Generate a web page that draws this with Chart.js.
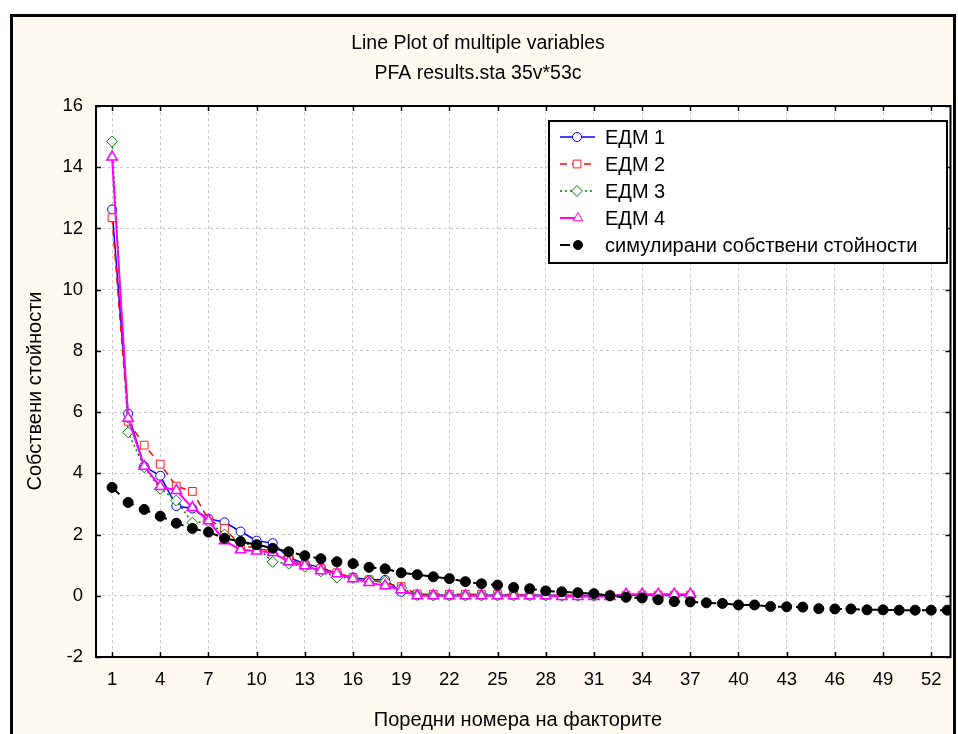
<!doctype html>
<html lang="en">
<head>
<meta charset="utf-8">
<style>
  * { margin: 0; padding: 0; }
  body { background: #ffffff; }
  .chartBox { width: 958px; height: 734px; }
</style>
</head>
<body>
<div class="chartBox"><canvas id="myChart"></canvas></div>
<script src="https://cdn.jsdelivr.net/npm/chart.js/dist/chart.umd.min.js"></script>
<script>
// factor numbers (x categories)
const factors = [1,2,3,4,5,6,7,8,9,10,11,12,13,14,15,16,17,18,19,20,21,22,23,24,25,26,27,28,29,30,31,32,33,34,35,36,37,38,39,40,41,42,43,44,45,46,47,48,49,50,51,52,53];
const xTickLabels = [1,4,7,10,13,16,19,22,25,28,31,34,37,40,43,46,49,52];
const yTickLabels = [-2,0,2,4,6,8,10,12,14,16];

const seriesNames = ['ЕДМ 1','ЕДМ 2','ЕДМ 3','ЕДМ 4','симулирани собствени стойности'];

const edm1 = [12.62,5.95,4.23,3.92,2.93,2.85,2.52,2.4,2.1,1.8,1.72,1.25,1.05,0.92,0.72,0.6,0.52,0.52,0.13,0.03,0.02,0.02,0.02,0.02,0.02,0.02,0.02,0.02,0.01,0.01,0.01,0.01,0.02,0.02,0.02,0.02,0.02];
const edm2 = [12.35,5.7,4.92,4.3,3.58,3.41,2.49,2.2,1.65,1.55,1.45,1.2,0.98,0.89,0.75,0.6,0.52,0.42,0.3,0.06,0.05,0.05,0.05,0.05,0.05,0.03,0.03,0.02,0.02,0.02,0.02,0.02,0.02,0.02,0.02,0.02,0.02];
const edm3 = [14.84,5.34,4.2,3.5,3.11,2.39,2.43,2.0,1.75,1.6,1.11,1.05,0.95,0.8,0.6,0.58,0.5,0.46,0.25,0.02,0.01,0.01,0.01,0.01,0.01,0.01,0.01,0.01,0.0,0.0,0.0,0.0,0.0,0.0,0.0,0.0,0.0];
const edm4 = [14.33,5.8,4.23,3.57,3.44,2.88,2.45,1.8,1.5,1.46,1.41,1.11,0.98,0.82,0.72,0.56,0.43,0.33,0.2,0.0,0.0,0.0,0.0,0.0,0.0,0.0,0.0,0.0,-0.02,-0.02,-0.02,-0.02,0.05,0.05,0.05,0.05,0.05];
const simulated = [3.54,3.05,2.82,2.6,2.37,2.2,2.08,1.88,1.77,1.67,1.55,1.44,1.31,1.21,1.11,1.05,0.93,0.88,0.75,0.69,0.62,0.56,0.46,0.39,0.35,0.27,0.23,0.16,0.13,0.1,0.07,0.0,-0.05,-0.07,-0.13,-0.19,-0.2,-0.23,-0.25,-0.3,-0.3,-0.35,-0.36,-0.37,-0.42,-0.43,-0.43,-0.46,-0.46,-0.47,-0.47,-0.47,-0.47];

const FONT = 'Liberation Sans, Arial, sans-serif';

const pts = (arr) => arr.map((v, i) => ({ x: factors[i], y: v }));

const data = {
  datasets: [
    { label: seriesNames[0], data: pts(edm1), borderColor: '#0000ff', borderWidth: 1.5,
      pointStyle: 'circle', pointRadius: 4.5, pointBackgroundColor: '#ffffff', pointBorderColor: '#0000ff', pointBorderWidth: 1, order: 4 },
    { label: seriesNames[1], data: pts(edm2), borderColor: '#ff0000', borderWidth: 1.5, borderDash: [7, 5],
      pointStyle: 'rect', pointRadius: 5.5, pointBackgroundColor: '#ffffff', pointBorderColor: '#ff2020', pointBorderWidth: 1, order: 3 },
    { label: seriesNames[2], data: pts(edm3), borderColor: '#008000', borderWidth: 1.5, borderDash: [2, 3],
      pointStyle: 'rectRot', pointRadius: 5.5, pointBackgroundColor: '#ffffff', pointBorderColor: '#008000', pointBorderWidth: 1, order: 2 },
    { label: seriesNames[3], data: pts(edm4), borderColor: '#ff00ff', borderWidth: 2,
      pointStyle: 'triangle', pointRadius: 6, pointBackgroundColor: '#ffffff', pointBorderColor: '#ff00ff', pointBorderWidth: 1.5, order: 1 },
    { label: seriesNames[4], data: pts(simulated), borderColor: '#000000', borderWidth: 2, borderDash: [10, 8],
      pointStyle: 'circle', pointRadius: 5, pointBackgroundColor: '#000000', pointBorderColor: '#000000', pointBorderWidth: 1, order: 0 }
  ]
};

// cream page, white plot area, frames, inward ticks and titles
const frame = {
  id: 'frame',
  beforeDraw(chart) {
    const { ctx, width, height, chartArea: { top, bottom, left, right } } = chart;
    ctx.save();
    ctx.fillStyle = '#ffffff';
    ctx.fillRect(0, 0, width, height);
    ctx.fillStyle = '#fffaf0';
    ctx.fillRect(11, 15, 944, height);
    ctx.fillStyle = '#ffffff';
    ctx.fillRect(left, top, right - left, bottom - top);
    ctx.restore();
  },
  afterDraw(chart) {
    const { ctx, height, chartArea: { top, bottom, left, right }, scales: { x, y } } = chart;
    ctx.save();
    ctx.strokeStyle = '#000000';
    ctx.lineWidth = 3;
    ctx.strokeRect(11.5, 15.5, 943, height + 10);
    ctx.lineWidth = 2;
    ctx.strokeRect(left, top, right - left, bottom - top);
    ctx.lineWidth = 1.5;
    ctx.beginPath();
    xTickLabels.forEach(v => {
      const px = Math.round(x.getPixelForValue(v)) + 0.5;
      ctx.moveTo(px, top); ctx.lineTo(px, top + 5);
      ctx.moveTo(px, bottom); ctx.lineTo(px, bottom - 5);
    });
    yTickLabels.forEach(v => {
      const py = Math.round(y.getPixelForValue(v)) + 0.5;
      ctx.moveTo(left, py); ctx.lineTo(left + 5, py);
      ctx.moveTo(right, py); ctx.lineTo(right - 5, py);
    });
    ctx.stroke();

    ctx.fillStyle = '#000000';
    ctx.font = '19.5px ' + FONT;
    ctx.textAlign = 'center';
    ctx.textBaseline = 'middle';
    ctx.fillText('Line Plot of multiple variables', 478, 44);
    ctx.fillText('PFA results.sta 35v*53c', 478, 74);

    // axis titles
    ctx.font = '20px ' + FONT;
    ctx.fillText('Поредни номера на факторите', 518, 720);
    ctx.translate(35, 391);
    ctx.rotate(-Math.PI / 2);
    ctx.fillText('Собствени стойности', 0, 0);
    ctx.restore();
  }
};

// legend box inside the plot
const legendBox = {
  id: 'legendBox',
  afterDraw(chart) {
    const { ctx, data } = chart;
    const bx = 549, by = 121, bw = 398, bh = 142;
    ctx.save();
    ctx.fillStyle = '#ffffff';
    ctx.fillRect(bx, by, bw, bh);
    ctx.strokeStyle = '#000000';
    ctx.lineWidth = 2;
    ctx.strokeRect(bx, by, bw, bh);
    ctx.font = '20px ' + FONT;
    ctx.textBaseline = 'middle';
    ctx.textAlign = 'left';
    data.datasets.forEach((ds, i) => {
      const cy = by + 16 + i * 27;
      const short = i >= 3;
      const mx = short ? 578 : 577;
      ctx.strokeStyle = ds.borderColor;
      ctx.lineWidth = ds.borderWidth;
      ctx.setLineDash(ds.borderDash || []);
      ctx.beginPath();
      ctx.moveTo(560, cy);
      ctx.lineTo(short ? mx : 595, cy);
      ctx.stroke();
      ctx.setLineDash([]);
      ctx.fillStyle = ds.pointBackgroundColor;
      ctx.strokeStyle = ds.pointBorderColor;
      ctx.lineWidth = 1;
      Chart.helpers.drawPoint(ctx, { pointStyle: ds.pointStyle, radius: ds.pointStyle === 'circle' ? 4.5 : 5.5, rotation: 0, borderWidth: 1 }, mx, cy);
      ctx.fillStyle = '#000000';
      ctx.fillText(ds.label, 605, cy + 1);
    });
    ctx.restore();
  }
};

const config = {
  type: 'line',
  data,
  options: {
    responsive: true,
    maintainAspectRatio: false,
    animation: false,
    layout: { padding: { top: 106, right: 6, left: 0, bottom: 0 } },
    elements: { line: { tension: 0 } },
    scales: {
      x: {
        type: 'linear',
        min: 0,
        max: 53.2,
        afterBuildTicks: (scale) => { scale.ticks = xTickLabels.map(v => ({ value: v })); },
        afterFit: (scale) => { scale.height = 77; },
        ticks: { color: '#000000', font: { family: FONT, size: 18.5 }, padding: 12, maxRotation: 0, autoSkip: false },
        grid: { color: '#c8c8c8', lineWidth: 1, drawTicks: false },
        border: { display: false, dash: [3, 3] }
      },
      y: {
        min: -2,
        max: 16,
        afterBuildTicks: (scale) => { scale.ticks = yTickLabels.map(v => ({ value: v })); },
        afterFit: (scale) => { scale.width = 96; },
        ticks: { color: '#000000', font: { family: FONT, size: 18.5 }, padding: 13 },
        grid: { color: '#c8c8c8', lineWidth: 1, drawTicks: false },
        border: { display: false, dash: [3, 3] }
      }
    },
    plugins: {
      legend: { display: false },
      tooltip: { enabled: false }
    }
  },
  plugins: [frame, legendBox]
};

const myChart = new Chart(document.getElementById('myChart'), config);
</script>
</body>
</html>
